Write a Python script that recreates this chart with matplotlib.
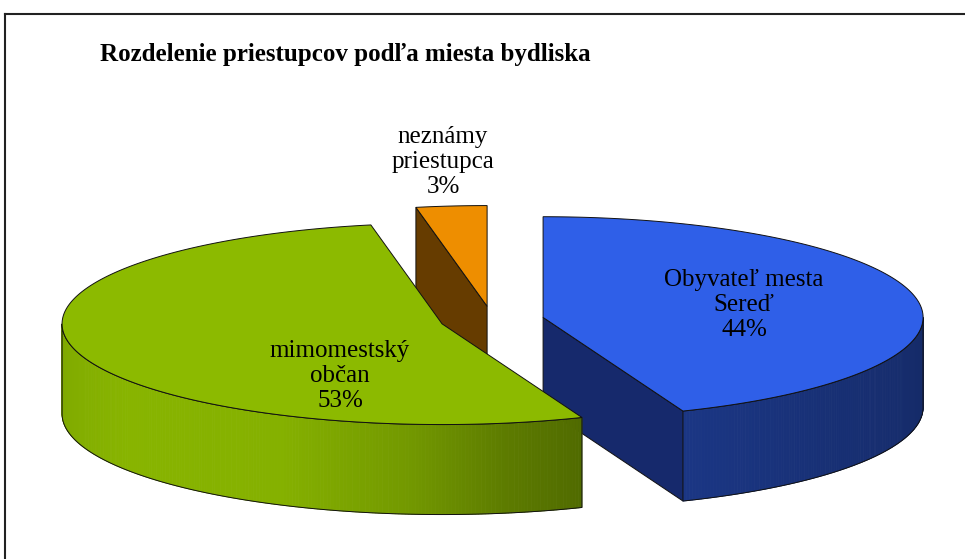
import numpy as np
import matplotlib
matplotlib.use("Agg")
import matplotlib.pyplot as plt
from matplotlib.patches import Polygon

# ---------------- data ----------------
title = "Rozdelenie priestupcov podľa miesta bydliska"
categories = ["Obyvateľ mesta\nSereď", "mimomestský\nobčan", "neznámy\npriestupca"]
values = [44, 53, 3]
percent_labels = ["44%", "53%", "3%"]
top_colors = ["#2F5FE8", "#8CBA00", "#EE8E00"]
cut_colors = ["#16296C", "#506A00", "#663C00"]

# ---------------- layout ----------------
W, H = 965, 559
fig = plt.figure(figsize=(W / 100, H / 100), dpi=100)
ax = fig.add_axes([0, 0, 1, 1])
ax.set_xlim(0, W)
ax.set_ylim(H, 0)
ax.axis("off")

CX, CY = 492, 320        # pie centre (px)
R, K = 380, 0.265        # radius, vertical squash
DEPTH, EXPLODE = 90, 52  # thickness, explosion distance
label_pos = [(744, 305), (340, 376), (443, 162)]
FONT = ["Liberation Serif", "DejaVu Serif"]

# side shading vs angle (clockwise from 12 o'clock)
shade_ang = [90, 130, 158, 170, 185, 205, 235, 270]
shade_val = [0.44, 0.50, 0.57, 0.66, 0.82, 0.95, 0.97, 0.90]


def rgb(c):
    return np.array(matplotlib.colors.to_rgb(c))


def pt(cx, cy, th, r, z=0.0):
    t = np.radians(th)
    return cx + r * np.sin(t), cy - r * np.cos(t) * K + z


fr = np.array(values, float) / sum(values) * 360.0
starts = np.concatenate([[0], np.cumsum(fr)[:-1]])
ends = starts + fr

slices = []
for i in range(len(values)):
    a0, a1 = starts[i], ends[i]
    mid = (a0 + a1) / 2
    scx, scy = pt(CX, CY, mid, EXPLODE)
    slices.append((scy, i, a0, a1, scx))
slices.sort()

for scy, i, a0, a1, scx in slices:
    base = rgb(top_colors[i])
    # cut faces
    for ang, nrm in ((a0, a0 - 90), (a1, a1 + 90)):
        if np.cos(np.radians(nrm)) < -1e-3:
            x1, y1 = pt(scx, scy, ang, R)
            poly = [(scx, scy), (x1, y1), (x1, y1 + DEPTH), (scx, scy + DEPTH)]
            ax.add_patch(Polygon(poly, closed=True, facecolor=cut_colors[i],
                                 edgecolor="#111111", lw=0.7, zorder=2))
    # outer side
    lo, hi = max(a0, 90), min(a1, 270)
    if hi > lo:
        angs = np.linspace(lo, hi, max(int((hi - lo) * 2), 2))
        for j in range(len(angs) - 1):
            m = (angs[j] + angs[j + 1]) / 2
            s = np.interp(m, shade_ang, shade_val)
            col = np.clip(base * s, 0, 1)
            p1 = pt(scx, scy, angs[j], R)
            p2 = pt(scx, scy, angs[j + 1], R)
            quad = [p1, p2, (p2[0], p2[1] + DEPTH), (p1[0], p1[1] + DEPTH)]
            ax.add_patch(Polygon(quad, closed=True, facecolor=col,
                                 edgecolor=col, lw=0.6, zorder=2))
        top = [pt(scx, scy, a, R) for a in angs]
        bot = [(x, y + DEPTH) for x, y in top[::-1]]
        ax.add_patch(Polygon(top + bot, closed=True, fill=False,
                             edgecolor="#111111", lw=0.7, zorder=2))
    # top face
    angs = np.linspace(a0, a1, max(int((a1 - a0) * 2), 2))
    poly = [(scx, scy)] + [pt(scx, scy, a, R) for a in angs]
    ax.add_patch(Polygon(poly, closed=True, facecolor=top_colors[i],
                         edgecolor="#111111", lw=0.7, zorder=2))

# labels
for i in range(len(values)):
    x, y = label_pos[i]
    ax.text(x, y, categories[i] + "\n" + percent_labels[i], ha="center",
            va="center", fontsize=18, family=FONT, linespacing=1.2,
            color="black", zorder=5)

# title
ax.text(100, 55, title, ha="left", va="center", fontsize=18,
        fontweight="bold", family=FONT, color="black", zorder=5)

# frame
ax.plot([5, W], [14, 14], color="#222222", lw=1.5, zorder=6)
ax.plot([5, 5], [14, H], color="#222222", lw=1.5, zorder=6)

fig.savefig("out.png", dpi=100)
